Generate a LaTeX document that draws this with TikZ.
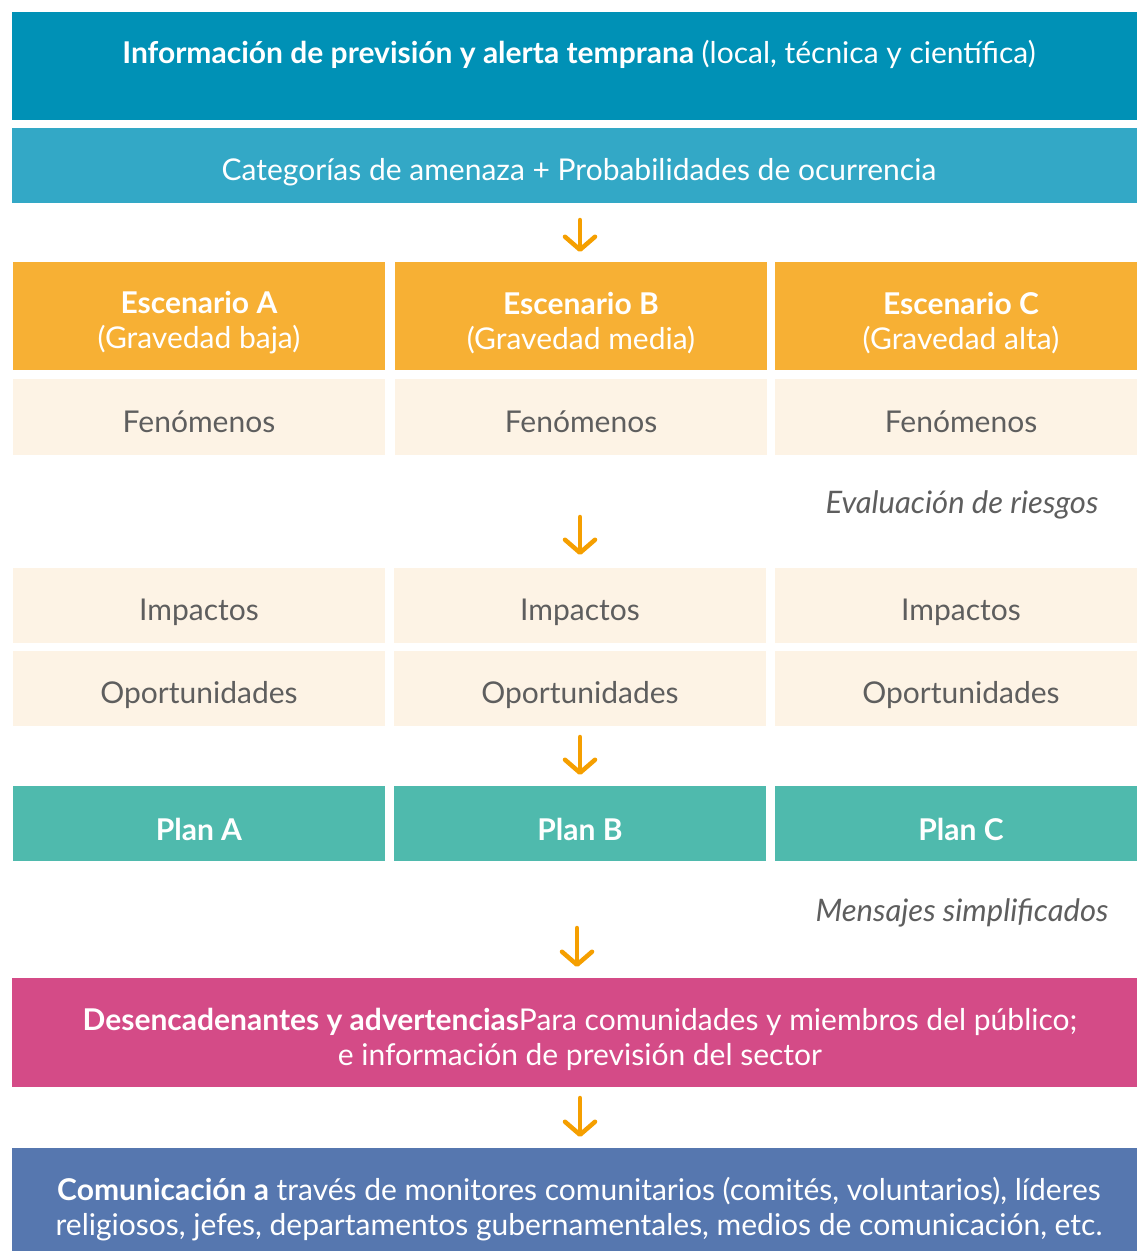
\documentclass[tikz,border=0pt]{standalone}
\usepackage{fontspec}
\setmainfont{Lato}
\usetikzlibrary{arrows.meta}
\definecolor{cone}{HTML}{0091B6}
\definecolor{ctwo}{HTML}{33A8C6}
\definecolor{corange}{HTML}{F7B034}
\definecolor{cpale}{HTML}{FDF3E5}
\definecolor{cteal}{HTML}{4FBAAD}
\definecolor{cpink}{HTML}{D44B87}
\definecolor{cblue}{HTML}{5677AF}
\definecolor{carrow}{HTML}{F59F00}
\definecolor{cgrey}{HTML}{5E5E5E}
\tikzset{
  bx/.style={rectangle, inner sep=0pt, outer sep=0pt, draw=none},
  txt/.style={inner sep=0pt, align=center, font=\fontsize{30}{35}\selectfont},
  wtxt/.style={txt, text=white},
  gtxt/.style={txt, text=cgrey},
  itxt/.style={gtxt, font=\fontsize{31}{35}\selectfont\itshape},
  arr/.style={draw=carrow, line width=4.5pt, line cap=round, -{Straight Barb[length=13pt,width=30pt,round]}},
}
\begin{document}
\begin{tikzpicture}[x=1pt,y=-1pt]
\useasboundingbox (0,0) rectangle (1137,1251);
% top boxes
\node[bx, fill=cone, minimum width=1135pt, minimum height=108pt] (info) at (579.5,66) {};
\node[wtxt] (infot) at (579,54) {\textbf{Información de previsión y alerta temprana} (local, técnica y científica)};
\node[bx, fill=ctwo, minimum width=1135pt, minimum height=75pt] (cat) at (579.5,165.5) {};
\node[wtxt] (catt) at (579,172) {Categorías de amenaza + Probabilidades de ocurrencia};
% scenarios
\node[bx, fill=corange, minimum width=372pt, minimum height=108pt] (escA) at (199,316) {};
\node[bx, fill=corange, minimum width=372pt, minimum height=108pt] (escB) at (581,316) {};
\node[bx, fill=corange, minimum width=372pt, minimum height=108pt] (escC) at (961,316) {};
\node[wtxt] (escAt) at (199,323) {\textbf{Escenario A}\\(Gravedad baja)};
\node[wtxt] (escBt) at (581,323) {\textbf{Escenario B}\\(Gravedad media)};
\node[wtxt] (escCt) at (961,323) {\textbf{Escenario C}\\(Gravedad alta)};
% phenomena
\node[bx, fill=cpale, minimum width=372pt, minimum height=76pt] (fenA) at (199,417) {};
\node[bx, fill=cpale, minimum width=372pt, minimum height=76pt] (fenB) at (581,417) {};
\node[bx, fill=cpale, minimum width=372pt, minimum height=76pt] (fenC) at (961,417) {};
\node[gtxt] (fenAt) at (199,422) {Fenómenos};
\node[gtxt] (fenBt) at (581,422) {Fenómenos};
\node[gtxt] (fenCt) at (961,422) {Fenómenos};
\node[itxt] (evalt) at (962,505) {Evaluación de riesgos};
% impacts
\node[bx, fill=cpale, minimum width=372pt, minimum height=75pt] (impA) at (199,605.5) {};
\node[bx, fill=cpale, minimum width=372pt, minimum height=75pt] (impB) at (580,605.5) {};
\node[bx, fill=cpale, minimum width=372pt, minimum height=75pt] (impC) at (961,605.5) {};
\node[gtxt] (impAt) at (199,612) {Impactos};
\node[gtxt] (impBt) at (580,612) {Impactos};
\node[gtxt] (impCt) at (961,612) {Impactos};
\node[bx, fill=cpale, minimum width=372pt, minimum height=75pt] (opoA) at (199,688.5) {};
\node[bx, fill=cpale, minimum width=372pt, minimum height=75pt] (opoB) at (580,688.5) {};
\node[bx, fill=cpale, minimum width=372pt, minimum height=75pt] (opoC) at (961,688.5) {};
\node[gtxt] (opoAt) at (199,695) {Oportunidades};
\node[gtxt] (opoBt) at (580,695) {Oportunidades};
\node[gtxt] (opoCt) at (961,695) {Oportunidades};
% plans
\node[bx, fill=cteal, minimum width=372pt, minimum height=75pt] (planA) at (199,823.5) {};
\node[bx, fill=cteal, minimum width=372pt, minimum height=75pt] (planB) at (580,823.5) {};
\node[bx, fill=cteal, minimum width=372pt, minimum height=75pt] (planC) at (961,823.5) {};
\node[wtxt] (planAt) at (199,829) {\textbf{Plan A}};
\node[wtxt] (planBt) at (580,829) {\textbf{Plan B}};
\node[wtxt] (planCt) at (961,829) {\textbf{Plan C}};
\node[itxt] (mest) at (962,913) {Mensajes simplificados};
% triggers
\node[bx, fill=cpink, minimum width=1135pt, minimum height=109pt] (trig) at (579.5,1032.5) {};
\node[wtxt] (trigt) at (580,1039) {\textbf{Desencadenantes y advertencias}Para comunidades y miembros del público;\\e información de previsión del sector};
% communication
\node[bx, fill=cblue, minimum width=1135pt, minimum height=114pt] (com) at (579.5,1205) {};
\node[wtxt] (comt) at (579,1209) {\textbf{Comunicación a} través de monitores comunitarios (comités, voluntarios), líderes\\religiosos, jefes, departamentos gubernamentales, medios de comunicación, etc.};
% arrows
\draw[arr] ([xshift=0.5pt,yshift=-17pt]cat.south) -- ([xshift=-1pt,yshift=10pt]escB.north);
\draw[arr] ([xshift=-1pt,yshift=-62pt]fenB.south) -- ([yshift=13pt]impB.north);
\draw[arr] ([yshift=-11pt]opoB.south) -- ([yshift=11pt]planB.north);
\draw[arr] ([xshift=-3pt,yshift=-67pt]planB.south) -- ([xshift=-2.5pt,yshift=11pt]trig.north);
\draw[arr] ([xshift=0.5pt,yshift=-11pt]trig.south) -- ([xshift=0.5pt,yshift=11pt]com.north);
\end{tikzpicture}
\end{document}
